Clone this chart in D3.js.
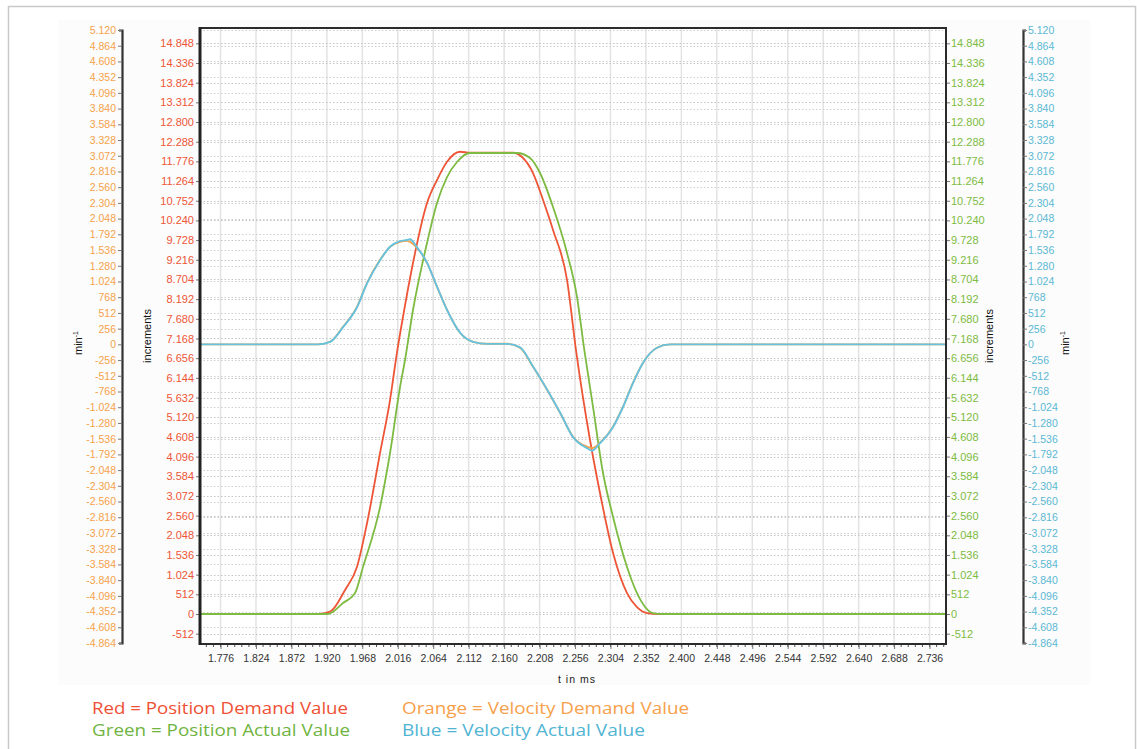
<!DOCTYPE html>
<html><head><meta charset="utf-8">
<script src="https://cdn.jsdelivr.net/npm/d3@7"></script>
<style>
body{margin:0;background:#fff;}
svg{display:block;font-family:"Liberation Sans",Arial,sans-serif;}
</style>
</head><body>
<svg id="c" width="1137" height="749"></svg>
<script>
// ---------- data ----------
const xTickLabels = [1.776,1.824,1.872,1.920,1.968,2.016,2.064,2.112,2.160,2.208,2.256,2.304,2.352,2.400,2.448,2.496,2.544,2.592,2.640,2.688,2.736];
const posTicks = [-512,0,512,1024,1536,2048,2560,3072,3584,4096,4608,5120,5632,6144,6656,7168,7680,8192,8704,9216,9728,10240,10752,11264,11776,12288,12800,13312,13824,14336,14848];
const velTicks = [-4864,-4608,-4352,-4096,-3840,-3584,-3328,-3072,-2816,-2560,-2304,-2048,-1792,-1536,-1280,-1024,-768,-512,-256,0,256,512,768,1024,1280,1536,1792,2048,2304,2560,2816,3072,3328,3584,3840,4096,4352,4608,4864,5120];

// Red = Position Demand Value (t in ms, increments)
const redT = [1.7482,1.9080,1.9243,1.9446,1.9608,1.9744,1.9920,2.0055,2.0150,2.0231,2.0366,2.0556,2.0691,2.0827,2.1003,2.1138,2.1720,2.1842,2.1991,2.2127,2.2262,2.2452,2.2573,2.2763,2.2898,2.3075,2.3264,2.3399,2.3535,2.3710,2.7583];
const redPos = [0,0,60,624,1231,2368,4189,5567,6816,7735,9132,10693,11291,11767,12027,12000,12000,11889,11473,10771,9991,8689,6868,4527,3148,1587,546,182,26,0,0];

// Green = Position Actual Value
const greenT = [1.7482,1.9216,1.9419,1.9581,1.9689,1.9920,2.0055,2.0190,2.0258,2.0366,2.0556,2.0691,2.0827,2.0962,2.1138,2.1775,2.1951,2.2086,2.2262,2.2452,2.2587,2.2682,2.2804,2.2939,2.3075,2.3264,2.3399,2.3616,2.3750,2.7583];
const greenPos = [0,0,286,546,1223,2784,4189,5900,6608,7909,9652,10693,11369,11760,11994,11994,11864,11473,10589,9392,8247,6920,5385,3668,2524,1223,546,26,0,0];

// Orange = Velocity Demand Value (min^-1)
const orangeT = [1.7482,1.9080,1.9243,1.9419,1.9608,1.9744,1.9920,2.0055,2.0190,2.0285,2.0326,2.0421,2.0556,2.0691,2.0827,2.1003,2.1179,2.1368,2.1639,2.1815,2.1991,2.2181,2.2357,2.2533,2.2722,2.2790,2.2898,2.3075,2.3210,2.3345,2.3481,2.3670,2.3846,2.7583];
const orangeVel = [0,0,42,286,612,1003,1377,1588,1670,1686,1670,1572,1328,937,563,189,42,10,10,-55,-365,-739,-1113,-1504,-1667,-1690,-1601,-1341,-1016,-625,-299,-55,0,0];

// Blue = Velocity Actual Value
const blueT = [1.7482,1.9080,1.9243,1.9419,1.9608,1.9744,1.9920,2.0055,2.0190,2.0285,2.0326,2.0421,2.0556,2.0691,2.0827,2.1003,2.1179,2.1368,2.1639,2.1815,2.1991,2.2181,2.2357,2.2533,2.2722,2.2790,2.2898,2.3075,2.3210,2.3345,2.3481,2.3670,2.3846,2.7583];
const blueVel = [0,0,40,280,605,995,1370,1590,1680,1700,1712,1580,1330,940,560,190,40,8,8,-50,-360,-735,-1110,-1510,-1690,-1732,-1610,-1345,-1020,-630,-300,-55,0,0];

const xDomain = [1.7482, 2.7583];
const posDomain = [-780, 15246];
const velDomain = [-4864, 5120];

// legend
const legendTexts = ["Red = Position Demand Value","Green = Position Actual Value","Orange = Velocity Demand Value","Blue = Velocity Actual Value"];
const legendColors = ["#ef4f34","#6fb43f","#f7a04a","#50b4d2"];

// ---------- layout ----------
const L = 200, R = 946, T = 28, B = 644;
const C = {red:"#ee5537", green:"#7dbb42", orange:"#f5a24a", blue:"#66c2de"};
const loc = d3.formatLocale({decimal:",", thousands:".", grouping:[3], currency:["",""], minus:"-"});
const fmtInt = loc.format(",d");
const fmtX = d3.format(".3f");

const svg = d3.select("#c");
svg.append("rect").attr("x",8.5).attr("y",6.5).attr("width",1127).attr("height",800)
  .attr("fill","none").attr("stroke","#c9c9c9").attr("stroke-width",1.5);
svg.append("rect").attr("x",58).attr("y",20).attr("width",1032).attr("height",665).attr("fill","#fcfcfc");
svg.append("rect").attr("x",L).attr("y",T).attr("width",R-L).attr("height",B-T).attr("fill","#fff");

const x = d3.scaleLinear().domain(xDomain).range([L,R]);
const yPos = d3.scaleLinear().domain(posDomain).range([B,T]);
const yVel = d3.scaleLinear().domain(velDomain).range([643,30]);

// grid
const g = svg.append("g");
g.selectAll("line.v").data(xTickLabels).join("line")
  .attr("x1",d=>x(d)).attr("x2",d=>x(d)).attr("y1",T).attr("y2",B)
  .attr("stroke","#e3e3e3").attr("stroke-width",1.5);
g.selectAll("line.hp").data(posTicks).join("line")
  .attr("x1",L).attr("x2",R).attr("y1",d=>Math.round(yPos(d))+0.5).attr("y2",d=>Math.round(yPos(d))+0.5)
  .attr("stroke","#c4c4c4").attr("stroke-dasharray","1.5,2");
g.append("g").selectAll("line").data(velTicks.filter(v=>yVel(v)>T && yVel(v)<B)).join("line")
  .attr("x1",L).attr("x2",R).attr("y1",d=>Math.round(yVel(d))+0.5).attr("y2",d=>Math.round(yVel(d))+0.5)
  .attr("stroke","#cfcfcf").attr("stroke-dasharray","1.5,2");

// axes
function styleAxis(sel, color, size){
  sel.selectAll("text").attr("fill",color).style("font-size",size+"px").style("font-family","'Liberation Sans',Arial,sans-serif");
  sel.selectAll(".tick line").attr("stroke","#777");
}
const aPosL = svg.append("g").attr("transform",`translate(${L},0)`)
  .call(d3.axisLeft(yPos).tickValues(posTicks).tickFormat(fmtInt).tickSize(4).tickPadding(2));
aPosL.select(".domain").remove(); styleAxis(aPosL, C.red, 11);

const aPosR = svg.append("g").attr("transform",`translate(${R},0)`)
  .call(d3.axisRight(yPos).tickValues(posTicks).tickFormat(fmtInt).tickSize(4).tickPadding(1));
aPosR.select(".domain").remove(); styleAxis(aPosR, C.green, 11);

const aVelL = svg.append("g").attr("transform","translate(122,0)")
  .call(d3.axisLeft(yVel).tickValues(velTicks).tickFormat(fmtInt).tickSizeInner(4).tickSizeOuter(3).tickPadding(2));
aVelL.select(".domain").attr("stroke","#333").attr("stroke-width",2.2); styleAxis(aVelL, C.orange, 10.5);

const aVelR = svg.append("g").attr("transform","translate(1023,0)")
  .call(d3.axisRight(yVel).tickValues(velTicks).tickFormat(fmtInt).tickSizeInner(4).tickSizeOuter(3).tickPadding(1));
aVelR.select(".domain").attr("stroke","#333").attr("stroke-width",2.2); styleAxis(aVelR, "#5bb8d3", 10.5);

// x axis minor ticks
const minor = d3.range(xTickLabels[0]-0.048, xDomain[1], 0.048/5).filter(v=>v>xDomain[0] && v<xDomain[1]);
svg.append("g").selectAll("line").data(minor).join("line")
  .attr("x1",d=>x(d)).attr("x2",d=>x(d)).attr("y1",B).attr("y2",B+3).attr("stroke","#555");
const aX = svg.append("g").attr("transform",`translate(0,${B})`)
  .call(d3.axisBottom(x).tickValues(xTickLabels).tickFormat(fmtX).tickSize(5).tickPadding(6));
aX.select(".domain").remove(); styleAxis(aX, "#333", 10.5);

// curves
const lineGen = (xs, ys, yS) => d3.line().curve(d3.curveMonotoneX)
  .x((d,i)=>x(xs[i])).y((d,i)=>yS(ys[i]))(xs);
const plot = svg.append("g");
plot.append("path").attr("d",lineGen(redT,redPos,yPos)).attr("fill","none").attr("stroke",C.red).attr("stroke-width",1.8);
plot.append("path").attr("d",lineGen(greenT,greenPos,yPos)).attr("fill","none").attr("stroke",C.green).attr("stroke-width",1.8);
plot.append("path").attr("d",lineGen(orangeT,orangeVel,yVel)).attr("fill","none").attr("stroke",C.orange).attr("stroke-width",1.8);
plot.append("path").attr("d",lineGen(blueT,blueVel,yVel)).attr("fill","none").attr("stroke",C.blue).attr("stroke-width",1.9);

// frame
svg.append("rect").attr("x",L).attr("y",T).attr("width",R-L).attr("height",B-T)
  .attr("fill","none").attr("stroke","#2b2b2b").attr("stroke-width",2);
svg.append("line").attr("x1",L).attr("x2",L).attr("y1",T-1).attr("y2",B+1).attr("stroke","#222").attr("stroke-width",3);

// axis titles
function rotLabel(cx, cy, txt, sup){
  const t = svg.append("text").attr("transform",`translate(${cx},${cy}) rotate(-90)`)
    .attr("text-anchor","middle").attr("fill","#111").style("font-size","11px").text(txt);
  if(sup) t.append("tspan").attr("dy",-4).style("font-size","7px").text(sup);
}
rotLabel(82, 343, "min", "-1");
rotLabel(151, 336, "increments");
rotLabel(993, 336, "increments");
rotLabel(1069, 343, "min", "-1");

svg.append("text").attr("x",577).attr("y",683).attr("text-anchor","middle")
  .attr("fill","#222").style("font-size","10.5px").style("letter-spacing","1px").text("t in ms");

// legend layout
const legPos = [{x:92,y:714,w:256},{x:92,y:736,w:258},{x:402,y:714,w:287},{x:402,y:736,w:243}];
svg.append("g").selectAll("text").data(legendTexts).join("text")
  .attr("x",(d,i)=>legPos[i].x).attr("y",(d,i)=>legPos[i].y).attr("fill",(d,i)=>legendColors[i])
  .attr("textLength",(d,i)=>legPos[i].w).attr("lengthAdjust","spacingAndGlyphs")
  .style("font-family","'Open Sans',sans-serif").style("font-size","16px").text(d=>d);
</script>
</body></html>
